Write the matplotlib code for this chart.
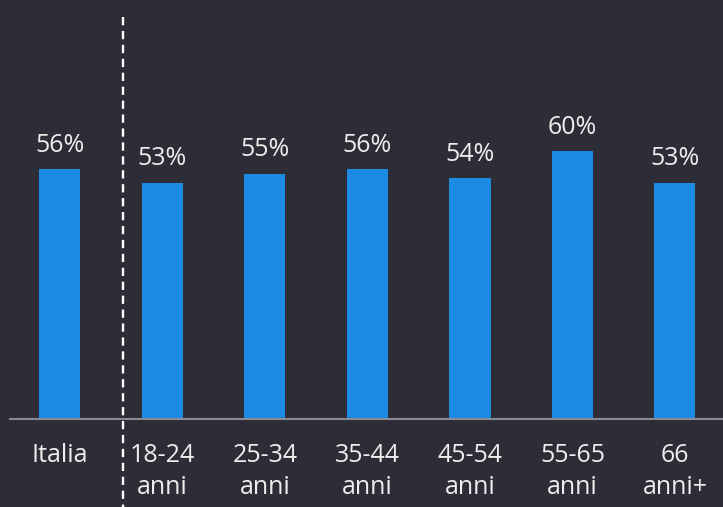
import matplotlib

matplotlib.use("Agg")
import matplotlib.pyplot as plt
import matplotlib.transforms as mtransforms

categories = ["Italia", "18-24\nanni", "25-34\nanni", "35-44\nanni",
              "45-54\nanni", "55-65\nanni", "66\nanni+"]
values = [56, 53, 55, 56, 54, 60, 53]

BG = "#2d2d37"
BAR = "#1a8ae2"
TXT = "#eeeeee"
AXIS = "#8a8a94"

plt.rcParams["font.family"] = ["Open Sans", "DejaVu Sans"]

W, H = 723, 507
fig = plt.figure(figsize=(W / 100, H / 100), dpi=100, facecolor=BG)
# axes: left edge at 10px, baseline at y=419px, top at figure top
ax = fig.add_axes([10 / W, (H - 419) / H, (W - 10) / W, 419 / H], facecolor=BG)

px_per_unit = 102.5
x = list(range(len(values)))
ax.bar(x, values, width=0.4, color=BAR, zorder=2)
ax.set_xlim(-50 / px_per_unit, (W - 10 - 50) / px_per_unit)
ax.set_ylim(0, 419 / 4.46)

for xi, v in zip(x, values):
    ax.annotate(f"{v}%", (xi, v), xytext=(0, 12.5), textcoords="offset points",
                ha="center", va="baseline", color=TXT, fontsize=18)

ax.set_xticks(x)
ax.set_xticklabels(categories, color=TXT, fontsize=18, linespacing=1.4)
ax.tick_params(axis="x", length=0, pad=17)
ax.set_yticks([])
for s in ("top", "left", "right"):
    ax.spines[s].set_visible(False)
ax.spines["bottom"].set_color(AXIS)
ax.spines["bottom"].set_linewidth(1.5)

# dashed separator between the total and the age groups
trans = mtransforms.blended_transform_factory(ax.transData, ax.transAxes)
ax.plot([0.615, 0.615], [0.959, -0.22], transform=trans, color="white",
        lw=1.7, ls=(0, (3.5, 2.4)), clip_on=False, zorder=3)

fig.savefig("out.png", dpi=100, facecolor=BG)
